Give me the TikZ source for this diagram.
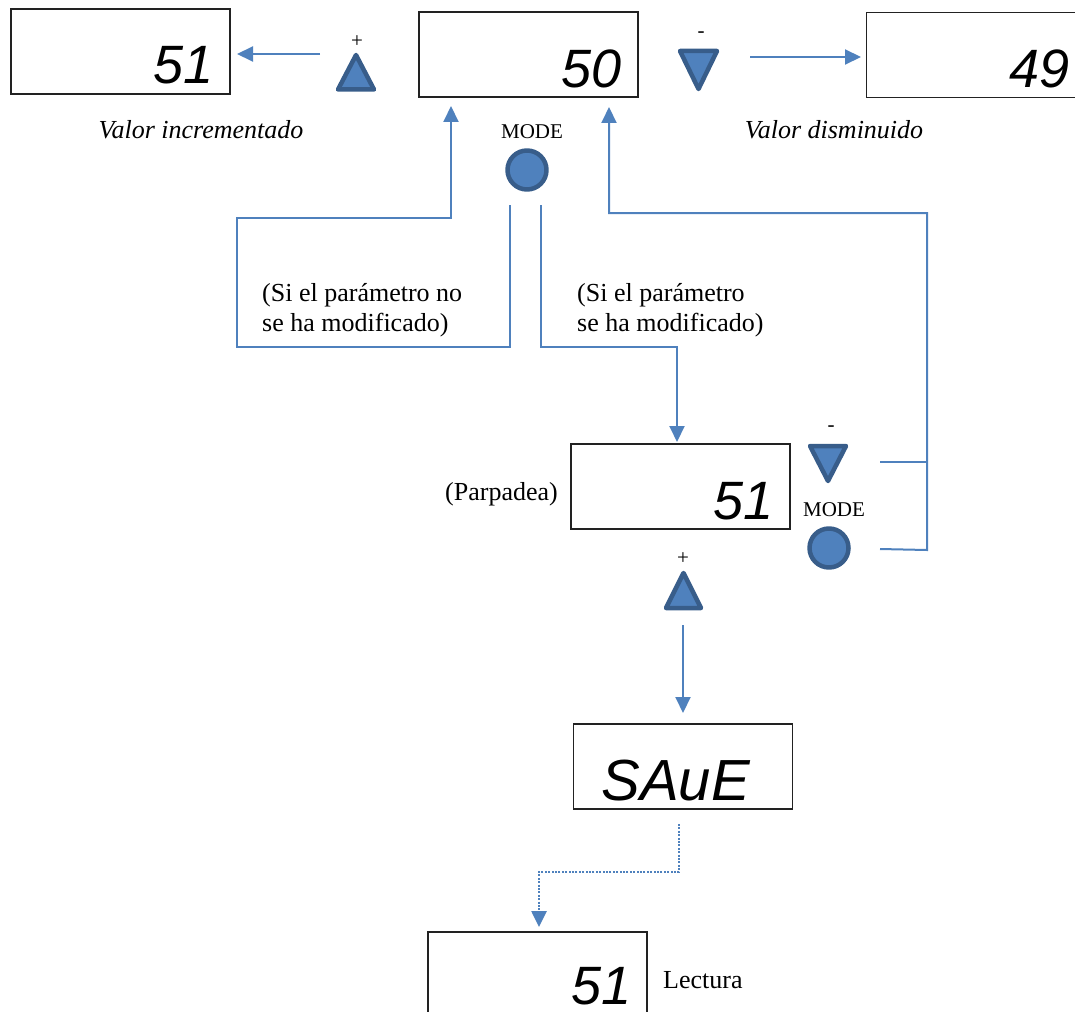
\documentclass[tikz,border=0pt]{standalone}
\usepackage{fontspec}
\setmainfont{Liberation Serif}
\newfontfamily\lcdfont{Liberation Sans}
\usetikzlibrary{arrows.meta}
\definecolor{wire}{HTML}{4F81BD}
\definecolor{btnfill}{HTML}{4F81BD}
\definecolor{btnedge}{HTML}{385D8A}
\definecolor{frame}{HTML}{222222}
\begin{document}
\begin{tikzpicture}[x=1pt,y=-1pt,
  display/.style={draw=frame,line width=1.3pt,minimum width=219pt,minimum height=85pt,inner sep=0pt},
  digits/.style={font=\lcdfont\itshape\fontsize{54}{54}\selectfont,inner sep=0pt,anchor=base east},
  label/.style={font=\fontsize{26}{30}\selectfont,inner sep=0pt},
  small/.style={font=\fontsize{21}{24}\selectfont,inner sep=0pt},
  note/.style={label,align=left,anchor=base west},
  wireline/.style={draw=wire,line width=2pt},
  flow/.style={wireline,-{Triangle[length=16pt,width=15pt]}},
  keybtn/.style={fill=btnfill,draw=btnedge,line width=4.5pt,line join=round}
]
\useasboundingbox (0,0) rectangle (1075,1011);

% displays
\node[display] (bInc)   at (120.5,51.5) {};
\node[display] (bCur)   at (528.5,54.5) {};
\node[display] (bDec)   at (976,55)     {};
\node[display] (bBlink) at (680.5,486.5){};
\node[display] (bSave)  at (683,766.5)  {};
\node[display] (bRead)  at (537.5,974.5){};

\node[digits] (dInc)   at (214,84)   {51};
\node[digits] (dCur)   at (622,88)   {50};
\node[digits] (dDec)   at (1070,88)  {49};
\node[digits] (dBlink) at (774,519)  {51};
\node[digits,font=\lcdfont\itshape\fontsize{58}{58}\selectfont] (dSave) at (750,800) {SAuE};
\node[digits] (dRead)  at (632,1004) {51};

% keys of the top row
\draw[keybtn] (356,55) -- (374,89.5) -- (338,89.5) -- cycle;
\node[small] (kPlusTop) at (357,42) {+};
\draw[keybtn] (680,51) -- (717,51) -- (698.5,89) -- cycle;
\node[small] (kMinusTop) at (701,35) {-};
\node[small,anchor=base] (kModeTop) at (532,139) {MODE};
\draw[keybtn] (527,170) circle (19.5);

% keys beside the blinking display
\draw[keybtn] (810,446) -- (846,446) -- (828,481) -- cycle;
\node[small] (kMinusMid) at (831,429) {-};
\node[small,anchor=base] (kModeMid) at (834,516) {MODE};
\draw[keybtn] (829,548) circle (19.5);
\draw[keybtn] (683.5,573) -- (701,608) -- (666,608) -- cycle;
\node[small] (kPlusMid) at (683,559) {+};

% labels
\node[label,font=\itshape\fontsize{26}{30}\selectfont,anchor=base] (lInc) at (201,139) {Valor incrementado};
\node[label,font=\itshape\fontsize{26}{30}\selectfont,anchor=base] (lDec) at (834,139) {Valor disminuido};
\node[note] (nNo)  at (262,331) {(Si el parámetro no\\se ha modificado)};
\node[note] (nYes) at (577,331) {(Si el parámetro\\se ha modificado)};
\node[label,anchor=base west] (lBlink) at (445,500) {(Parpadea)};
\node[label,anchor=base west] (lRead) at (663,988) {Lectura};

% free ends of the connectors
\coordinate (incFrom)  at (320,54);
\coordinate (incTo)    at (237,54);
\coordinate (decFrom)  at (750,57);
\coordinate (decTo)    at (861,57);
\coordinate (modeL)    at (510,205);
\coordinate (modeR)    at (541,205);
\coordinate (backL)    at (451,106);
\coordinate (backR)    at (609,107);
\coordinate (blinkIn)  at (677,442);
\coordinate (minusOut) at (880,462);
\coordinate (modeOut)  at (880,549);
\coordinate (plusOut)  at (683,625);
\coordinate (saveIn)   at (683,713);
\coordinate (saveOut)  at (679,824);
\coordinate (readIn)   at (539,927);

% connectors
\draw[flow] (incFrom) -- (incTo);
\draw[flow] (decFrom) -- (decTo);
\draw[flow] (modeL) -- (510,347) -- (237,347) -- (237,218) -- (451,218) -- (backL);
\draw[flow] (modeR) -- (541,347) -- (677,347) -- (blinkIn);
\draw[flow] (modeOut) -- (927,550) -- (927,213) -- (609,213) -- (backR);
\draw[wireline] (minusOut) -- (927,462);
\draw[flow] (plusOut) -- (saveIn);
\draw[flow,line width=2.6pt,dash pattern=on 2pt off 1.4pt] (saveOut) -- (679,872) -- (539,872) -- (readIn);
\end{tikzpicture}
\end{document}
